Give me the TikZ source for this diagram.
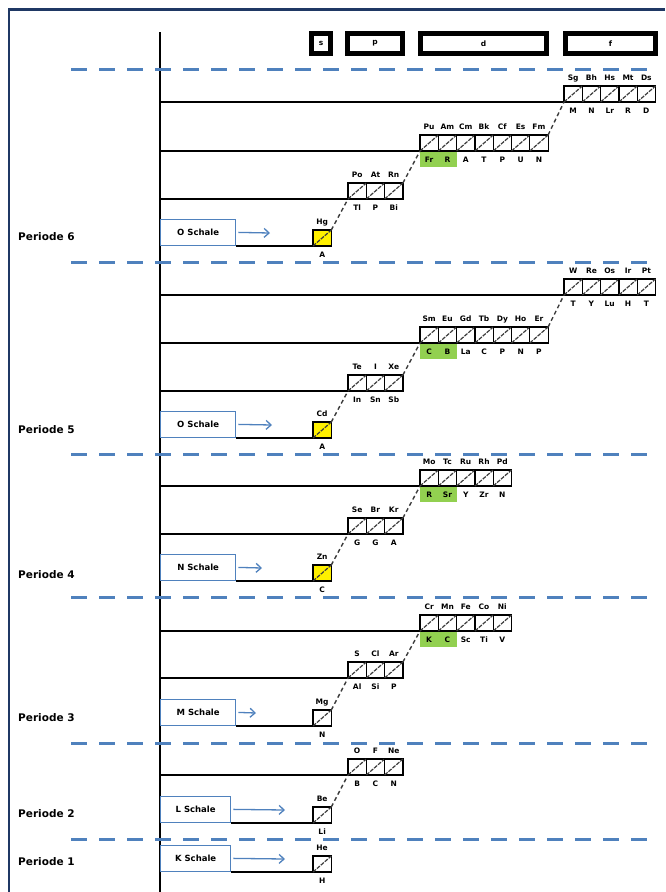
\documentclass[tikz,border=0pt]{standalone}
\usepackage{fontspec}
\setmainfont{DejaVu Sans}
\usetikzlibrary{arrows.meta}
\definecolor{sepblue}{RGB}{79,129,189}
\definecolor{framenavy}{RGB}{31,56,100}
\definecolor{hilite}{RGB}{146,208,80}
\definecolor{slashgray}{RGB}{60,60,60}
\definecolor{sfill}{RGB}{255,240,0}
\tikzstyle{cell} = [
    rectangle, draw=black, line width=1.2pt,
    minimum width=18.3pt, minimum height=16pt,
    inner sep=0pt, outer sep=0pt, anchor=south west
]
\tikzstyle{hilab} = [
    font=\bfseries\fontsize{7.5}{7.5}\selectfont,
    text height=5.5pt, text depth=1.5pt, inner sep=0.5pt,
    label distance=3pt
]
\tikzstyle{lolab} = [
    font=\bfseries\fontsize{7.5}{7.5}\selectfont,
    text height=5.5pt, text depth=1.5pt, inner sep=0.5pt,
    label distance=5pt
]
\tikzstyle{slash} = [draw=slashgray, line width=1.2pt, dash pattern=on 4pt off 1.2pt]
\tikzstyle{jump} = [draw=slashgray, line width=1.4pt, dash pattern=on 4pt off 3pt]
\tikzstyle{level} = [draw=black, line width=1.3pt]
\tikzstyle{sep} = [draw=sepblue, line width=3pt, dash pattern=on 16pt off 12pt]
\tikzstyle{shell} = [
    rectangle, draw=sepblue, line width=1.3pt, fill=white,
    minimum width=75pt, minimum height=26pt,
    inner sep=0pt, anchor=south west,
    font=\bfseries\fontsize{8.5}{8.5}\selectfont
]
\tikzstyle{shellarrow} = [draw=sepblue, line width=1.3pt, shorten <=2pt,
    -{Straight Barb[length=5pt, width=9pt, line width=1.3pt]}]
\tikzstyle{blockhead} = [
    rectangle, draw=black, line width=5pt,
    minimum height=20pt, inner sep=0pt,
    font=\bfseries\fontsize{7.5}{7.5}\selectfont
]
\tikzstyle{periode} = [anchor=west, inner sep=0pt, font=\bfseries\fontsize{10.5}{10.5}\selectfont]
\tikzstyle{frame} = [draw=framenavy, line width=2.5pt]
\tikzstyle{axis} = [draw=black, line width=1.3pt]

% one row of orbital boxes: [extra style]{name}{x}{y}{bottom/top,...}
\newcommand{\orbrow}[5][]{%
    \foreach \lo/\hi [count=\i] in {#5} {
        \node[cell, #1, label={[hilab]above:\hi}, label={[lolab]below:\lo}]
            (#2-\i) at ({#3+(\i-1)*18.3}, #4) {};
        \draw[slash] (#2-\i.south west) -- (#2-\i.north east);
    }%
}

\begin{document}
\begin{tikzpicture}[x=1pt, y=-1pt]
        \useasboundingbox (0,0) rectangle (665,892);

        % Frame and axis
        \draw[frame] (9,892) -- (9,9.5) -- (665,9.5);
        \coordinate (axistop) at (160,32);
        \coordinate (axisbot) at (160,892);
        \draw[axis] (axistop) -- (axisbot);

        % Block headers
        \node[blockhead, minimum width=19pt] (heads) at (321,43.5) {s};
        \node[blockhead, minimum width=55pt] (headp) at (375,43.5) {p};
        \node[blockhead, minimum width=126pt] (headd) at (483.5,43.5) {d};
        \node[blockhead, minimum width=90pt] (headf) at (610.5,43.5) {f};

        % Period separators
        \foreach \y in {69,262,454,597,743,839}
            \draw[sep] (71,\y) -- (655,\y);

        % Green marks
        \foreach \y in {151,343,486,631}
            \fill[hilite] (420,\y) rectangle ++(36.6,16);

        % Draw blocks
        \orbrow{p6f}{564}{102}{M/Sg, N/Bh, Lr/Hs, R/Mt, D/Ds}
        \orbrow{p6d}{420}{151}{Fr/Pu, R/Am, A/Cm, T/Bk, P/Cf, U/Es, N/Fm}
        \orbrow{p6p}{348}{199}{Tl/Po, P/At, Bi/Rn}
        \orbrow[fill=sfill]{p6s}{313}{246}{A/Hg}

        \orbrow{p5f}{564}{295}{T/W, Y/Re, Lu/Os, H/Ir, T/Pt}
        \orbrow{p5d}{420}{343}{C/Sm, B/Eu, La/Gd, C/Tb, P/Dy, N/Ho, P/Er}
        \orbrow{p5p}{348}{391}{In/Te, Sn/I, Sb/Xe}
        \orbrow[fill=sfill]{p5s}{313}{438}{A/Cd}

        \orbrow{p4d}{420}{486}{R/Mo, Sr/Tc, Y/Ru, Zr/Rh, N/Pd}
        \orbrow{p4p}{348}{534}{G/Se, G/Br, A/Kr}
        \orbrow[fill=sfill]{p4s}{313}{581}{C/Zn}

        \orbrow{p3d}{420}{631}{K/Cr, C/Mn, Sc/Fe, Ti/Co, V/Ni}
        \orbrow{p3p}{348}{678}{Al/S, Si/Cl, P/Ar}
        \orbrow{p3s}{313}{726}{N/Mg}

        \orbrow{p2p}{348}{775}{B/O, C/F, N/Ne}
        \orbrow{p2s}{313}{823}{Li/Be}

        \orbrow{p1s}{313}{872}{H/He}

        % Shells
        \node[shell] (shell6) at (160,246) {O Schale};
        \node[shell] (shell5) at (160,438) {O Schale};
        \node[shell] (shell4) at (160,581) {N Schale};
        \node[shell] (shell3) at (160,726) {M Schale};
        \node[shell, minimum width=70pt] (shell2) at (160,823) {L Schale};
        \node[shell, minimum width=70pt] (shell1) at (160,872) {K Schale};

        % Period labels
        \node[periode] (per6) at (18,237) {Periode 6};
        \node[periode] (per5) at (18,430) {Periode 5};
        \node[periode] (per4) at (18,575) {Periode 4};
        \node[periode] (per3) at (18,718) {Periode 3};
        \node[periode] (per2) at (18,814) {Periode 2};
        \node[periode] (per1) at (18,862) {Periode 1};

        % Draw levels
        \foreach \r in {p6f-1,p6d-1,p6p-1,p5f-1,p5d-1,p5p-1,p4d-1,p4p-1,p3d-1,p3p-1,p2p-1}
            \draw[level] (\r.south west) -- (\r.south west -| axistop);
        \foreach \n in {6,5,4,3,2,1}
            \draw[level] (shell\n.south east) -- (p\n s-1.south west);

        % Draw arrows
        \coordinate (arr6) at (270,233);
        \coordinate (arr5) at (272,425);
        \coordinate (arr4) at (262,568);
        \coordinate (arr3) at (256,713);
        \coordinate (arr2) at (285,810);
        \coordinate (arr1) at (285,859);
        \foreach \n in {6,5,4,3,2,1}
            \draw[shellarrow] (shell\n.east) -- (arr\n);

        % Draw jumps
        \draw[jump] (p6s-1.north east) -- (p6p-1.south west);
        \draw[jump] (p6p-3.north east) -- (p6d-1.south west);
        \draw[jump] (p6d-7.north east) -- (p6f-1.south west);
        \draw[jump] (p5s-1.north east) -- (p5p-1.south west);
        \draw[jump] (p5p-3.north east) -- (p5d-1.south west);
        \draw[jump] (p5d-7.north east) -- (p5f-1.south west);
        \draw[jump] (p4s-1.north east) -- (p4p-1.south west);
        \draw[jump] (p4p-3.north east) -- (p4d-1.south west);
        \draw[jump] (p3s-1.north east) -- (p3p-1.south west);
        \draw[jump] (p3p-3.north east) -- (p3d-1.south west);
        \draw[jump] (p2s-1.north east) -- (p2p-1.south west);
    \end{tikzpicture}
\end{document}
